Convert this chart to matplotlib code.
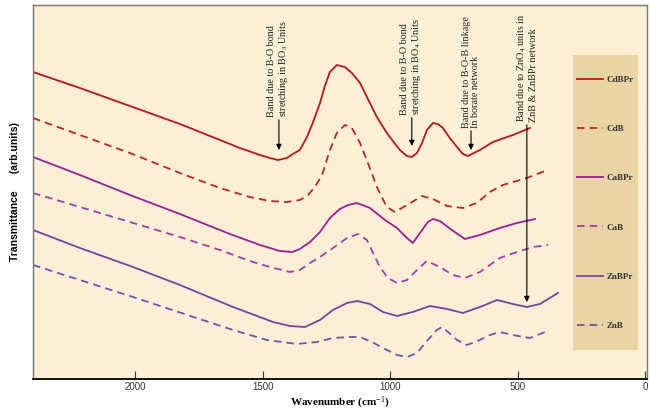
import matplotlib.pyplot as plt
from matplotlib.patches import Rectangle

plt.rcParams['mathtext.fontset'] = 'custom'
plt.rcParams['mathtext.rm'] = 'Liberation Serif'
plt.rcParams['mathtext.it'] = 'Liberation Serif:italic'
plt.rcParams['mathtext.bf'] = 'Liberation Serif:bold'

# wavenumber (cm-1) and transmittance (arb. units, offset per sample)
cdbpr_wn = [2400, 2216, 2020, 1824, 1706, 1589, 1510, 1471, 1440, 1405, 1381, 1354, 1326, 1302,
            1275, 1256, 1236, 1209, 1177, 1150, 1118, 1091, 1052, 1013, 962, 934, 915, 895, 875,
            856, 832, 813, 793, 766, 738, 715, 695, 648, 597, 519, 452]
cdbpr_t = [307, 291, 273, 255, 243, 231, 224, 221, 219, 221, 225, 229, 242, 257, 276, 293, 307,
           314, 312, 306, 296, 282, 262, 246, 229, 223, 222, 226, 236, 249, 256, 255, 251, 241,
           232, 225, 223, 229, 237, 244, 251]

cdb_wn = [2400, 2216, 2020, 1824, 1667, 1550, 1471, 1405, 1354, 1322, 1295, 1267, 1236, 1209,
          1177, 1150, 1118, 1087, 1052, 1013, 981, 934, 875, 832, 777, 715, 660, 609, 558, 464, 393]
cdb_t = [261, 244, 226, 206, 191, 182, 178, 177, 179, 184, 192, 204, 229, 246, 254, 251, 236,
         216, 192, 172, 167, 174, 183, 180, 173, 171, 176, 187, 194, 201, 208]

cabpr_wn = [2400, 2216, 2020, 1824, 1628, 1510, 1432, 1384, 1354, 1314, 1275, 1236, 1197, 1165,
            1130, 1079, 1020, 973, 934, 911, 883, 852, 832, 805, 758, 707, 648, 570, 503, 432]
cabpr_t = [222, 204, 184, 165, 145, 134, 128, 127, 130, 137, 147, 161, 170, 174, 176, 171, 159,
           151, 141, 136, 146, 157, 160, 158, 149, 140, 144, 151, 156, 160]

cab_wn = [2400, 2216, 2020, 1824, 1667, 1550, 1471, 1393, 1354, 1314, 1275, 1224, 1169, 1126,
          1091, 1067, 1040, 1009, 973, 934, 895, 856, 805, 754, 707, 648, 570, 503, 440, 381]
cab_t = [186, 172, 157, 142, 129, 118, 112, 107, 109, 116, 122, 131, 141, 145, 139, 126, 112,
         101, 96, 99, 109, 118, 112, 104, 101, 107, 121, 127, 132, 134]

znbpr_wn = [2400, 2216, 2008, 1824, 1616, 1459, 1393, 1334, 1275, 1224, 1169, 1130, 1079, 1028,
            973, 911, 844, 777, 715, 648, 581, 519, 464, 413, 342]
znbpr_t = [149, 131, 112, 94, 72, 57, 53, 52, 59, 69, 76, 78, 75, 67, 63, 67, 73, 70, 66, 72,
           79, 75, 72, 75, 86]

znb_wn = [2400, 2008, 1616, 1483, 1365, 1287, 1224, 1158, 1118, 1071, 1028, 973, 934, 895, 852,
          817, 797, 773, 738, 699, 648, 609, 570, 519, 452, 393]
znb_t = [114, 82, 49, 39, 35, 37, 41, 42, 42, 37, 31, 24, 22, 26, 39, 49, 52, 47, 39, 34, 39,
         44, 47, 44, 41, 47]

names = ["CdBPr", "CdB", "CaBPr", "CaB", "ZnBPr", "ZnB"]
colors = ["#c31218", "#c42226", "#9d1e9c", "#a23cb2", "#7542a8", "#7a4eb2"]
dashed = [False, True, False, True, False, True]
series = [(cdbpr_wn, cdbpr_t), (cdb_wn, cdb_t), (cabpr_wn, cabpr_t),
          (cab_wn, cab_t), (znbpr_wn, znbpr_t), (znb_wn, znb_t)]

# (text, wavenumber, text bottom, arrow tip)
notes = [
    ("Band due to B-O bond\nstretching in BO$_3$ Units", 1436, 262, 229),
    ("Band due to B-O bond\nstretching in BO$_4$ Units", 915, 264, 233),
    ("Band due to B-O-B linkage\nIn borate network", 683, 251, 229),
    ("Band due to ZnO$_4$ units in\nZnB & ZnBPr network", 464, 257, 77),
]

xticks = [2000, 1500, 1000, 500, 0]

fig = plt.figure(figsize=(6.5, 4.13), dpi=100)
fig.patch.set_facecolor("white")
ax = fig.add_axes([33 / 650, 34 / 413, 614 / 650, 374 / 413])
ax.set_facecolor("#fbf0d6")

for (wn, t), name, c, d in zip(series, names, colors, dashed):
    ls = (0, (4.2, 2.8)) if d else "-"
    ax.plot(wn, t, color=c, lw=1.3, ls=ls, label=name)

for txt, x, yt, ytip in notes:
    ax.annotate(txt, xy=(x, ytip), xytext=(x, yt), rotation=90, ha="center", va="bottom",
                multialignment="left", fontsize=7.3, family="Liberation Serif",
                linespacing=1.1, color="#222222",
                arrowprops=dict(arrowstyle="-|>", color="black", lw=0.8,
                                mutation_scale=8, shrinkA=0, shrinkB=0))

ax.set_xlim(2400, -7)
ax.set_ylim(0, 374)
ax.set_xticks(xticks)
ax.set_xticklabels([str(v) for v in xticks], fontsize=7, family="Liberation Sans")
ax.tick_params(axis="x", direction="in", length=6, width=0.8, pad=2, colors="#333333")
ax.set_yticks([])

for side in ["left", "top", "right"]:
    ax.spines[side].set_color("#777777")
    ax.spines[side].set_linewidth(1.0)
ax.spines["bottom"].set_color("black")
ax.spines["bottom"].set_linewidth(1.3)

ax.set_xlabel("Wavenumber (cm$^{-1}$)", fontsize=8, fontweight="bold",
              family="Liberation Serif", labelpad=2.5)
ax.set_ylabel("Transmittance      (arb.units)", fontsize=7.5, fontweight="bold",
              family="Liberation Sans", labelpad=9)

# legend panel
ax.add_patch(Rectangle((0.879, 0.0775), 0.106, 0.789, transform=ax.transAxes,
                       facecolor="#e8d5a3", edgecolor="none", zorder=1))
leg = ax.legend(loc="upper left", bbox_to_anchor=(0.8865, 0.811), frameon=False,
                handlelength=2.9, handletextpad=0.3, labelspacing=4.53, borderpad=0,
                borderaxespad=0, prop={"family": "Liberation Serif", "weight": "bold",
                                       "size": 6.5})
for text in leg.get_texts():
    text.set_color("#333333")

fig.savefig("out.png", dpi=100)
